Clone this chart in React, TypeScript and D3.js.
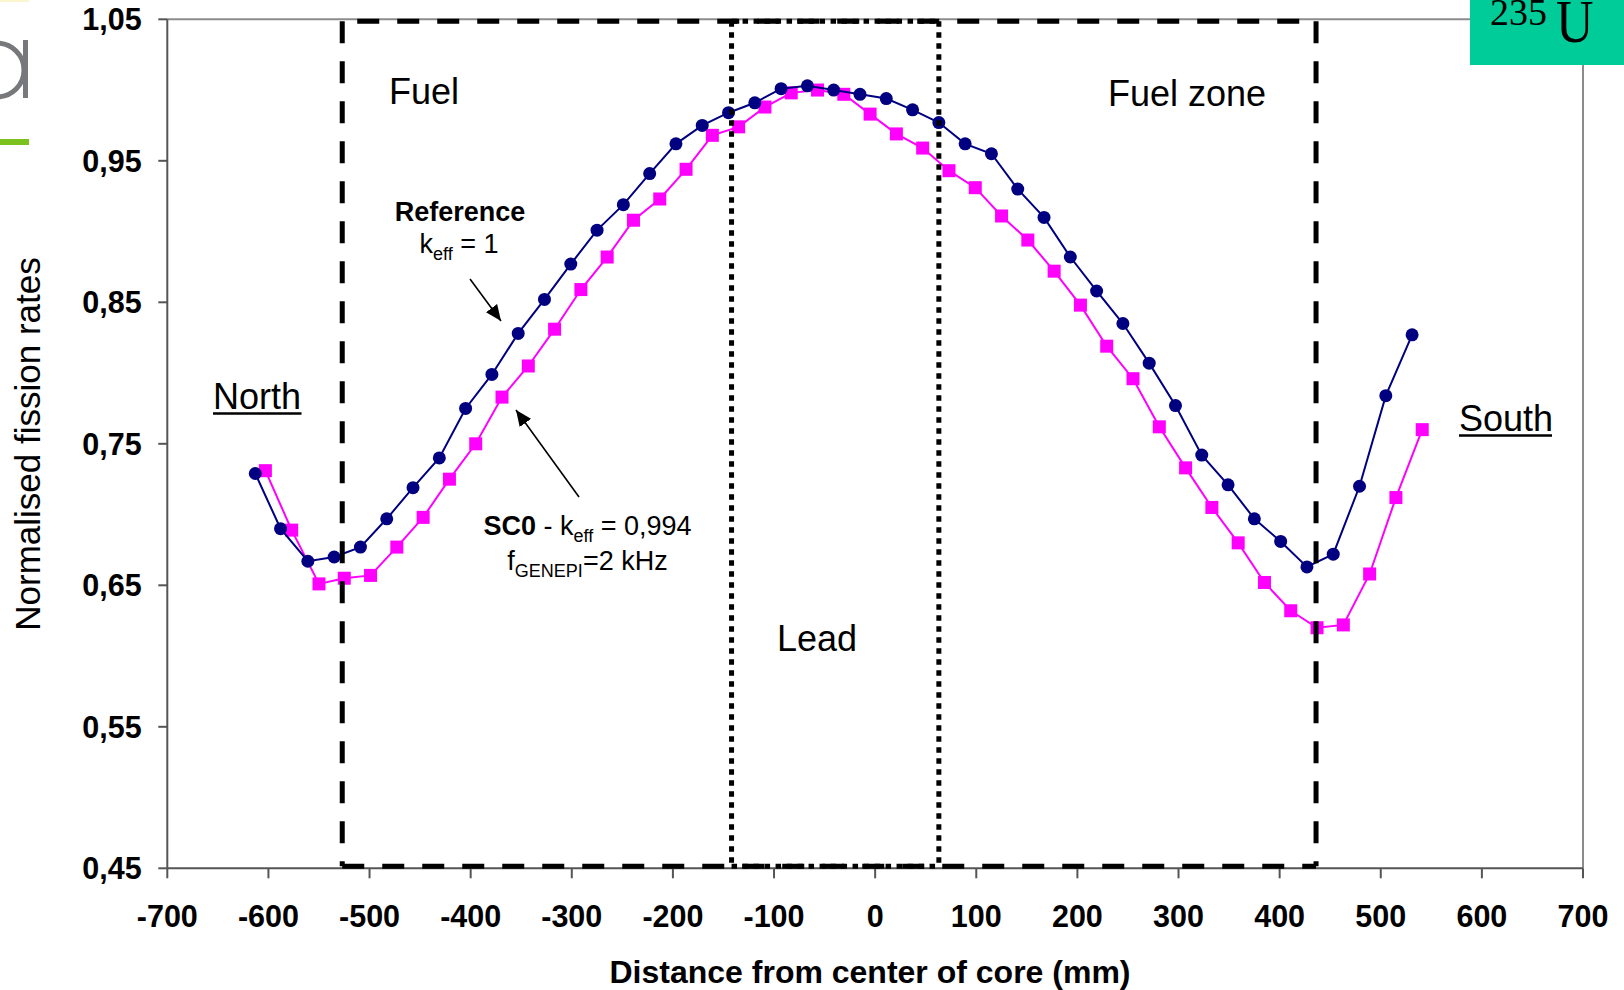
import React from 'react';
import * as d3 from 'd3';

// ---- Data ----
const xTicks = [-700, -600, -500, -400, -300, -200, -100, 0, 100, 200, 300, 400, 500, 600, 700];
const yTicks = [0.45, 0.55, 0.65, 0.75, 0.85, 0.95, 1.05];

// Reference, k_eff = 1 (navy circles)
const refX = [-613, -588, -561, -535, -509, -483, -457, -431, -405, -379, -353, -327, -301, -275, -249,
  -223, -197, -171, -145, -119, -93, -67, -41, -15, 11, 37, 63, 89, 115, 141,
  167, 193, 219, 245, 271, 297, 323, 349, 375, 401, 427, 453, 479, 505, 531];
const refY = [0.729, 0.690, 0.667, 0.670, 0.677, 0.697, 0.719, 0.740, 0.775, 0.799, 0.828, 0.852, 0.877, 0.901, 0.919,
  0.941, 0.962, 0.975, 0.984, 0.991, 1.001, 1.003, 1.000, 0.997, 0.994, 0.986, 0.977, 0.962, 0.955, 0.930,
  0.910, 0.882, 0.858, 0.835, 0.807, 0.777, 0.742, 0.721, 0.697, 0.681, 0.663, 0.672, 0.720, 0.784, 0.827];

// SC0, k_eff = 0.994 (magenta squares)
const sc0X = [-603, -577, -550, -525, -499, -473, -447, -421, -395, -369, -343, -317, -291, -265, -239,
  -213, -187, -161, -135, -109, -83, -57, -31, -5, 21, 47, 73, 99, 125, 151,
  177, 203, 229, 255, 281, 307, 333, 359, 385, 411, 437, 463, 489, 515, 541];
const sc0Y = [0.731, 0.689, 0.651, 0.655, 0.657, 0.677, 0.698, 0.725, 0.750, 0.783, 0.805, 0.831, 0.859, 0.882, 0.908,
  0.923, 0.944, 0.968, 0.974, 0.988, 0.998, 1.000, 0.997, 0.983, 0.969, 0.959, 0.943, 0.931, 0.911, 0.894,
  0.872, 0.848, 0.819, 0.796, 0.762, 0.733, 0.705, 0.680, 0.652, 0.632, 0.620, 0.622, 0.658, 0.712, 0.760];

// Zone boundaries (mm)
const fuelZoneEdges = [-527, 436];
const leadZoneEdges = [-142, 63];

const SANS = "'Liberation Sans', Arial, sans-serif";
const SERIF = "'Liberation Serif', 'Times New Roman', serif";

export default function App() {
  const left = 167.3, right = 1583, top = 19.3, bottom = 868.3;
  const x = d3.scaleLinear().domain([-700, 700]).range([left, right]);
  const y = d3.scaleLinear().domain([0.45, 1.05]).range([bottom, top]);

  const refPts: [number, number][] = refX.map((v, i) => [v, refY[i]]);
  const sc0Pts: [number, number][] = sc0X.map((v, i) => [v, sc0Y[i]]);
  const line = d3.line<[number, number]>().x(d => x(d[0])).y(d => y(d[1]));
  const fmtY = (v: number) => d3.format('.2f')(v).replace('.', ',');

  const fL = x(fuelZoneEdges[0]), fR = x(fuelZoneEdges[1]);
  const lL = x(leadZoneEdges[0]), lR = x(leadZoneEdges[1]);
  const boxTop = top + 2, boxBot = bottom - 2;

  return (
    <svg width={1624} height={990} viewBox="0 0 1624 990"
      style={{ position: 'fixed', left: 0, top: 0, background: '#fff' }}>
      <defs>
        <marker id="ah" markerUnits="userSpaceOnUse" markerWidth={18} markerHeight={14}
          refX={16} refY={7} orient="auto">
          <path d="M0,0 L16,7 L0,14 z" fill="#000" />
        </marker>
      </defs>
      <rect x={0} y={0} width={1624} height={990} fill="#fff" />

      {/* left logo fragments */}
      <rect x={0} y={0} width={29} height={2} fill="#fbf6d0" />
      <circle cx={-3} cy={70} r={27} fill="none" stroke="#76787b" strokeWidth={5} />
      <line x1={25.5} y1={40} x2={25.5} y2={98} stroke="#76787b" strokeWidth={5} />
      <rect x={0} y={139} width={29} height={6} fill="#7cc21e" />

      {/* plot border */}
      <line x1={left} y1={top} x2={right} y2={top} stroke="#8c8c8c" strokeWidth={2} />
      <line x1={right} y1={top} x2={right} y2={bottom} stroke="#8c8c8c" strokeWidth={2} />

      {/* axes */}
      <line x1={left} y1={top} x2={left} y2={bottom} stroke="#555" strokeWidth={2} />
      <line x1={left} y1={bottom} x2={right} y2={bottom} stroke="#555" strokeWidth={2} />
      {yTicks.map(t => (
        <g key={'y' + t}>
          <line x1={left - 9} x2={left} y1={y(t)} y2={y(t)} stroke="#555" strokeWidth={2} />
          <text x={141.7} y={y(t) + 10.9} textAnchor="end" fontFamily={SANS} fontWeight="bold"
            fontSize={30.5} fill="#000">{fmtY(t)}</text>
        </g>
      ))}
      {xTicks.map(t => (
        <g key={'x' + t}>
          <line x1={x(t)} x2={x(t)} y1={bottom} y2={bottom + 10} stroke="#555" strokeWidth={2} />
          <text x={x(t)} y={927} textAnchor="middle" fontFamily={SANS} fontWeight="bold"
            fontSize={30.5} fill="#000">{t}</text>
        </g>
      ))}
      <text x={870} y={983} textAnchor="middle" fontFamily={SANS} fontWeight="bold" fontSize={32}
        fill="#000">Distance from center of core (mm)</text>
      <text transform="translate(40,444) rotate(-90)" textAnchor="middle" fontFamily={SANS}
        fontSize={35} fill="#000">Normalised fission rates</text>

      {/* series */}
      <path d={line(sc0Pts) || ''} fill="none" stroke="#ff00ff" strokeWidth={2} />
      {sc0Pts.map((d, i) => (
        <rect key={'s' + i} x={x(d[0]) - 6.5} y={y(d[1]) - 6.5} width={13} height={13} fill="#ff00ff" />
      ))}
      <path d={line(refPts) || ''} fill="none" stroke="#000080" strokeWidth={2} />
      {refPts.map((d, i) => (
        <circle key={'r' + i} cx={x(d[0])} cy={y(d[1])} r={6.5} fill="#000080" />
      ))}

      {/* zone boundaries */}
      <g fill="none" stroke="#000" strokeWidth={5}>
        <line x1={fL} y1={boxTop} x2={fL} y2={boxBot} strokeDasharray="22 18" />
        <line x1={fR} y1={boxTop} x2={fR} y2={boxBot} strokeDasharray="22 18" />
        <line x1={fL + 15} y1={boxTop} x2={fR} y2={boxTop} strokeDasharray="22 18" />
        <line x1={fL} y1={boxBot} x2={fR} y2={boxBot} strokeDasharray="22 18" />
        <line x1={lL} y1={boxTop} x2={lL} y2={boxBot} strokeDasharray="5.5 5.5" />
        <line x1={lR} y1={boxTop} x2={lR} y2={boxBot} strokeDasharray="5.5 5.5" />
        <line x1={lL} y1={boxTop} x2={lR} y2={boxTop} strokeDasharray="5.5 5.5" />
        <line x1={lL} y1={boxBot} x2={lR} y2={boxBot} strokeDasharray="5.5 5.5" />
      </g>

      {/* zone labels */}
      <text x={389} y={104} fontFamily={SANS} fontSize={36} fill="#000">Fuel</text>
      <text x={1108} y={106} fontFamily={SANS} fontSize={36} fill="#000">Fuel zone</text>
      <text x={777} y={651} fontFamily={SANS} fontSize={36} fill="#000">Lead</text>
      <text x={213} y={409} fontFamily={SANS} fontSize={36} fill="#000">North</text>
      <line x1={213} x2={301.5} y1={413.5} y2={413.5} stroke="#000" strokeWidth={2.5} />
      <text x={1459} y={431} fontFamily={SANS} fontSize={36} fill="#000">South</text>
      <line x1={1459} x2={1552} y1={435.5} y2={435.5} stroke="#000" strokeWidth={2.5} />

      {/* annotations */}
      <text x={460} y={221} textAnchor="middle" fontFamily={SANS} fontWeight="bold" fontSize={27}
        fill="#000">Reference</text>
      <text x={459} y={253} textAnchor="middle" fontFamily={SANS} fontSize={27} fill="#000">
        k<tspan fontSize={18} dy={7}>eff</tspan><tspan dy={-7}> = 1</tspan>
      </text>
      <line x1={470} y1={279} x2={501} y2={321} stroke="#000" strokeWidth={1.6} markerEnd="url(#ah)" />

      <text x={587.5} y={535} textAnchor="middle" fontFamily={SANS} fontSize={27} fill="#000">
        <tspan fontWeight="bold">SC0</tspan> - k<tspan fontSize={18} dy={7}>eff</tspan><tspan dy={-7}> = 0,994</tspan>
      </text>
      <text x={587.5} y={570} textAnchor="middle" fontFamily={SANS} fontSize={27} fill="#000">
        f<tspan fontSize={18} dy={7}>GENEPI</tspan><tspan dy={-7}>=2 kHz</tspan>
      </text>
      <line x1={579} y1={497} x2={516} y2={410} stroke="#000" strokeWidth={1.6} markerEnd="url(#ah)" />

      {/* isotope badge */}
      <rect x={1470} y={0} width={154} height={65} fill="#00cc99" />
      <text x={1490} y={25} fontFamily={SERIF} fontSize={38} fill="#000">235</text>
      <text transform="translate(1556,42) scale(1,1.18)" fontFamily={SERIF} fontSize={52} fill="#000">U</text>
    </svg>
  );
}
